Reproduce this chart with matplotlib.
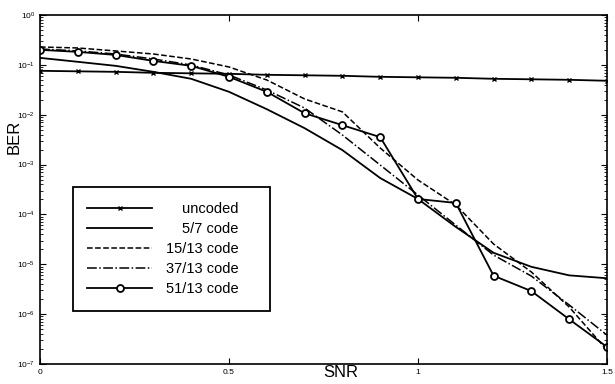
import matplotlib
matplotlib.use("Agg")
import matplotlib.pyplot as plt
from matplotlib.ticker import LogLocator, FixedLocator

plt.rcParams['font.family'] = ['Liberation Sans', 'DejaVu Sans']

# SNR axis (0 to 1.5 in steps of 0.1)
snr = [0.0, 0.1, 0.2, 0.3, 0.4, 0.5, 0.6, 0.7, 0.8, 0.9, 1.0, 1.1, 1.2, 1.3, 1.4, 1.5]

# BER curves
uncoded = [0.0759, 0.0741, 0.0724, 0.0692, 0.0676, 0.0661, 0.0631, 0.0617,
           0.0603, 0.0575, 0.0562, 0.0550, 0.0525, 0.0513, 0.0501, 0.0479]
code_5_7 = [0.138, 0.115, 0.0955, 0.0724, 0.0525, 0.0288, 0.0129, 0.00537,
            0.00195, 5.37e-4, 2.04e-4, 5.62e-5, 1.70e-5, 8.9e-6, 6.0e-6, 5.25e-6]
code_15_13 = [0.228, 0.218, 0.190, 0.165, 0.131, 0.0906, 0.0497, 0.0207,
              0.0114, 0.00215, 4.9e-4, 1.55e-4, 2.55e-5, 7.0e-6, 1.39e-6, 1.9e-7]
code_37_13 = [0.208, 0.190, 0.165, 0.131, 0.0993, 0.0626, 0.0313, 0.0136,
              0.00392, 9.8e-4, 2.45e-4, 6.1e-5, 1.53e-5, 5.8e-6, 1.53e-6, 3.8e-7]
code_51_13 = [0.200, 0.182, 0.158, 0.120, 0.0955, 0.0575, 0.0288, 0.0107,
              0.00617, 0.00355, 2.04e-4, 1.70e-4, 5.9e-6, 2.9e-6, 7.9e-7, 2.2e-7]

labels = ["uncoded", "5/7 code", "15/13 code", "37/13 code", "51/13 code"]
xticks = [0, 0.5, 1, 1.5]
xticklabels = ["0", "0.5", "1", "1.5"]

fig = plt.figure(figsize=(6.15, 3.84), dpi=100)
ax = fig.add_axes([0.065, 0.052, 0.922, 0.909])

lw = 1.3
ax.semilogy(snr, uncoded, '-', color='black', lw=lw, marker='x', ms=3.5, mew=1.0, label=labels[0])
ax.semilogy(snr, code_5_7, '-', color='black', lw=lw, label=labels[1])
ax.semilogy(snr, code_15_13, '--', color='black', lw=1.1, label=labels[2])
ax.semilogy(snr, code_37_13, '-.', color='black', lw=1.1, label=labels[3])
ax.semilogy(snr, code_51_13, '-', color='black', lw=lw, marker='o', ms=5,
            mfc='white', mew=1.3, label=labels[4])

ax.set_xlim(0, 1.5)
ax.set_ylim(1e-7, 1e0)
ax.xaxis.set_major_locator(FixedLocator(xticks))
ax.set_xticklabels(xticklabels)
ax.yaxis.set_major_locator(LogLocator(base=10, numticks=10))
ax.yaxis.set_minor_locator(LogLocator(base=10, subs=range(2, 10), numticks=20))
ax.tick_params(which='both', direction='in', top=True, right=True, labelsize=6)
ax.tick_params(which='major', length=4)
ax.tick_params(which='minor', length=2)
for s in ax.spines.values():
    s.set_linewidth(1.2)

ax.set_xlabel("SNR", fontsize=12)
ax.set_ylabel("BER", fontsize=12)
ax.xaxis.set_label_coords(0.53, -0.003)
ax.yaxis.set_label_coords(-0.032, 0.65)

# trailing spaces widen the box on the right like the scan
leg = ax.legend([l + "    " for l in labels], loc='lower left',
                bbox_to_anchor=(0.058, 0.152), borderaxespad=0, fontsize=10.5,
                handlelength=4.4, handletextpad=1.0, labelspacing=0.42,
                borderpad=1.0, fancybox=False, framealpha=1, edgecolor='black')
leg.get_frame().set_linewidth(1.3)

# right-align the legend labels
fig.canvas.draw()
r = fig.canvas.get_renderer()
widths = [t.get_window_extent(r).width for t in leg.get_texts()]
wmax = max(widths)
for t, w in zip(leg.get_texts(), widths):
    t.set_x(wmax - w)

fig.savefig("out.png", dpi=100)
